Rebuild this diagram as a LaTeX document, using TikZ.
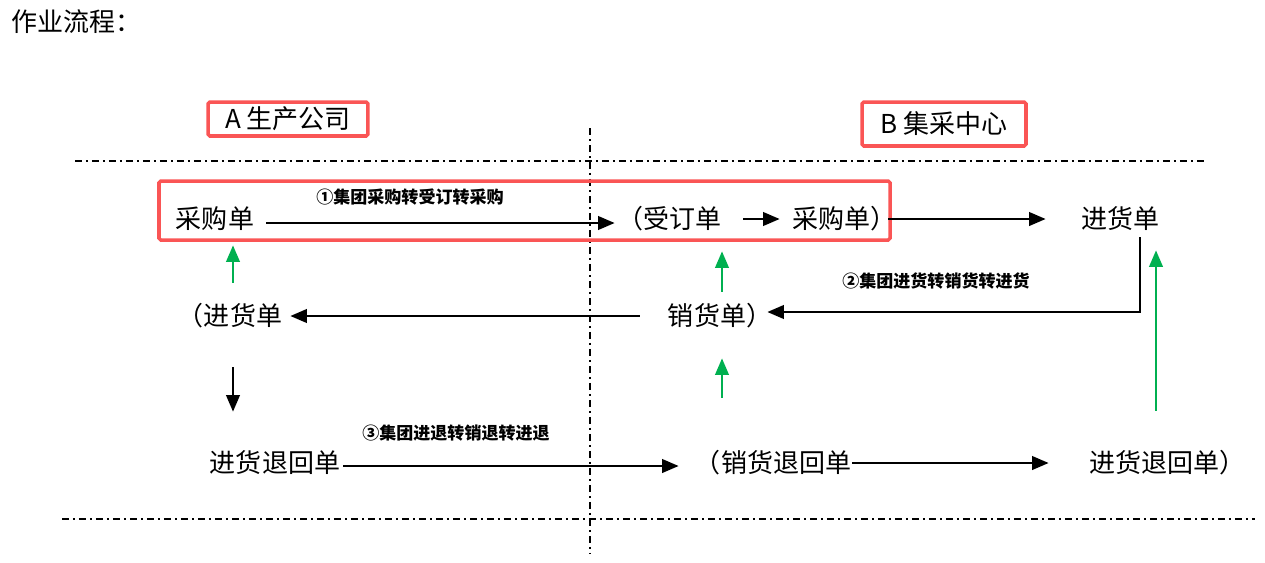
\documentclass[tikz,border=0pt]{standalone}
\usepackage{fontspec}
\setmainfont{Noto Sans CJK SC}
\usetikzlibrary{arrows.meta,calc}
\definecolor{boxred}{RGB}{250,85,85}
\definecolor{flowgreen}{RGB}{0,176,80}

\begin{document}
\begin{tikzpicture}[x=0.02cm, y=-0.02cm,
	doc/.style={inner sep=0pt, text height=0.45cm, text depth=0.07cm, font=\fontsize{14.8}{16}\selectfont},
	tag/.style={inner sep=0pt, font=\fontsize{9.7}{11}\selectfont\bfseries},
	corp/.style={draw=boxred, line width=2pt, rounded corners=1pt, inner sep=0pt, font=\fontsize{14.8}{16}\selectfont},
	arr/.style={-{Triangle[length=0.33cm,width=0.27cm]}, line width=1.3pt},
	garr/.style={arr, draw=flowgreen},
	sep/.style={line width=1pt, dash pattern=on 0.14cm off 0.08cm on 0.04cm off 0.08cm}]
\useasboundingbox (0,0) rectangle (1265,562);

\node[doc, anchor=west] (title) at (11,22) {作业流程：};

% companies
\node[corp, minimum width=3.2cm, minimum height=0.68cm] (compA) at (288,119) {A 生产公司};
\node[corp, minimum width=3.28cm, minimum height=0.88cm] (compB) at (944,124) {B 集采中心};

% separators
\draw[sep] (75,161) -- (1205,161);
\draw[sep] (62,519) -- (1255,519);
\draw[sep] (590,128) -- (590,553);

% row 1
\node[doc] (cgA) at (215,219) {采购单};
\node[doc] (sdB) at (669,219) {（受订单};
\node[doc] (cgB) at (844,219) {采购单）};
\node[doc] (jhB) at (1120,219) {进货单};
\draw[boxred, line width=2pt, rounded corners=1pt] (159,181) rectangle (890,240);
\draw[arr] ($(cgA.east)+(12,4)$) -- ($(sdB.west)+(-2,4)$);
	\node[tag] (lbl1) at (410,197) {①集团采购转受订转采购};
\draw[arr] ($(sdB.east)+(22,0)$) -- ($(cgB.west)+(-12,0)$);
\draw[arr] ($(cgB.east)+(-8,0)$) -- ($(jhB.west)+(-35,0)$);

% row 2
\node[doc] (jhA) at (230,316) {（进货单};
\node[doc] (xhB) at (720,316) {销货单）};
\draw[arr] ($(xhB.west)+(-28,0)$) -- ($(jhA.east)+(8,0)$);
\draw[arr] ($(jhB.south)+(20,5)$) |- ($(xhB.east)+(-5,-4)$);
	\node[tag] (lbl2) at (936,281) {②集团进货转销货转进货};

% row 3
\node[doc] (thA) at (275,463) {进货退回单};
\node[doc] (xtB) at (773,463) {（销货退回单};
\node[doc] (thB) at (1167,463) {进货退回单）};
\draw[arr] ($(thA.east)+(3,3)$) -- ($(xtB.west)+(-16,3)$);
\draw[arr] ($(xtB.east)+(1,0)$) -- ($(thB.west)+(-40,0)$);
	\node[tag] (lbl3) at (456,433) {③集团进退转销退转进退};

% down and green
\draw[arr] ($(jhA.south)+(3,38)$) -- ($(thA.north)+(-42,-38)$);
\draw[garr] ($(jhA.north)+(3,-20)$) -- ($(cgA.south)+(18,13)$);
\draw[garr] ($(xhB.north)+(2,-11)$) -- ($(sdB.south)+(53,19)$);
\draw[garr] ($(xtB.north)+(-51,-52)$) -- ($(xhB.south)+(2,29)$);
\draw[garr] ($(thB.north)+(-11,-39)$) -- ($(jhB.south)+(36,18)$);
\end{tikzpicture}
\end{document}
